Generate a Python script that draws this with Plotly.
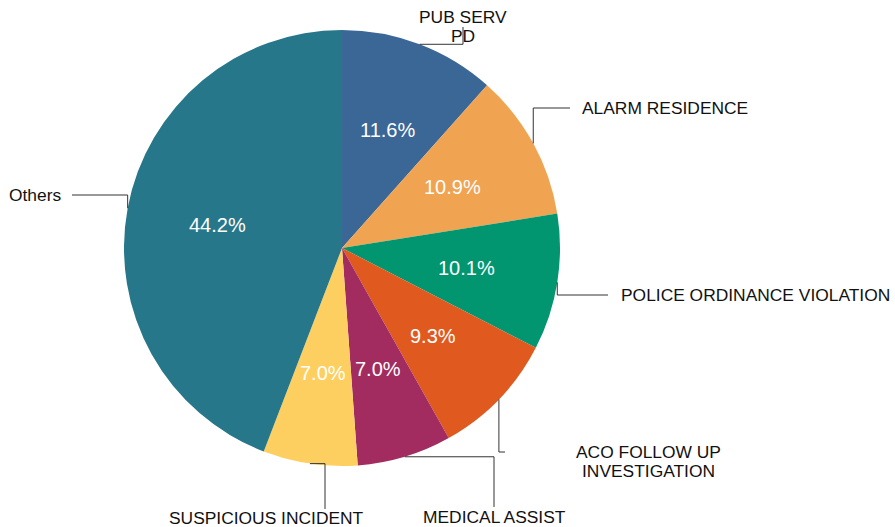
import math
import plotly.graph_objects as go

# Call types and their share of all calls (percent)
categories = [
    "PUB SERV<br>PD",
    "ALARM RESIDENCE",
    "POLICE ORDINANCE VIOLATION",
    "ACO FOLLOW UP<br>INVESTIGATION",
    "MEDICAL ASSIST",
    "SUSPICIOUS INCIDENT",
    "Others",
]
shares = [11.6, 10.9, 10.1, 9.3, 7.0, 7.0, 44.2]
colors = ["#3a6796", "#f0a351", "#019670", "#e05a1f", "#a22b60", "#fdcf60", "#27778a"]

# Page and pie geometry (pixels)
W, H = 895, 527
CX, CY, R = 342, 248, 218

# Outside label placement: end point of the leader line, which leg comes first,
# where the text sits and how it is anchored
label_ends = [(463, 27), (570, 108), (608, 295), (505, 452), (494, 507), (325, 509), (72, 195)]
first_leg = ["h", "v", "v", "v", "h", "h", "v"]
text_pos = [(463, 17), (580, 108), (619, 295), (648, 452), (494, 517), (266, 518), (63, 195)]
text_anchor = ["center", "left", "left", "center", "center", "center", "right"]
LINE_GAP = 19
LABEL_FONT = 17.4
PCT_FONT = 20


def px(x):
    return x / W


def py(y):
    return 1 - y / H


fig = go.Figure(
    go.Pie(
        labels=[c.replace("<br>", " ") for c in categories],
        values=shares,
        sort=False,
        direction="clockwise",
        rotation=0,
        textinfo="none",
        marker=dict(colors=colors, line=dict(width=0)),
        domain=dict(x=[px(CX - R), px(CX + R)], y=[py(CY + R), py(CY - R)]),
        showlegend=False,
    )
)

total = sum(shares)
shapes, annotations = [], []
acc = 0.0
for i, v in enumerate(shares):
    mid = (acc + v / 2) / total * 2 * math.pi
    acc += v
    sx, sy = math.sin(mid), -math.cos(mid)

    # percentage inside the slice
    annotations.append(dict(
        x=px(CX + 0.58 * R * sx), y=py(CY + 0.58 * R * sy),
        xref="paper", yref="paper", showarrow=False,
        text=f"{v:.1f}%", font=dict(color="white", size=PCT_FONT, family="Liberation Sans, Arial"),
        xanchor="center", yanchor="middle",
    ))

    # elbow leader line from the rim to the label
    ax, ay = CX + R * sx, CY + R * sy
    ex, ey = label_ends[i]
    cx_, cy_ = (ex, ay) if first_leg[i] == "h" else (ax, ey)
    shapes.append(dict(
        type="path", xref="paper", yref="paper",
        path=f"M {px(ax)} {py(ay)} L {px(cx_)} {py(cy_)} L {px(ex)} {py(ey)}",
        line=dict(color="#333333", width=1),
    ))

    tx, ty = text_pos[i]
    for k, line in enumerate(categories[i].split("<br>")):
        annotations.append(dict(
            x=px(tx), y=py(ty + k * LINE_GAP),
            xref="paper", yref="paper", showarrow=False,
            text=line, font=dict(color="#111111", size=LABEL_FONT, family="Liberation Sans, Arial"),
            xanchor=text_anchor[i], yanchor="middle",
        ))

fig.update_layout(
    width=W, height=H,
    margin=dict(l=0, r=0, t=0, b=0),
    paper_bgcolor="white", plot_bgcolor="white",
    shapes=shapes, annotations=annotations,
)

fig.write_html("out.html")
